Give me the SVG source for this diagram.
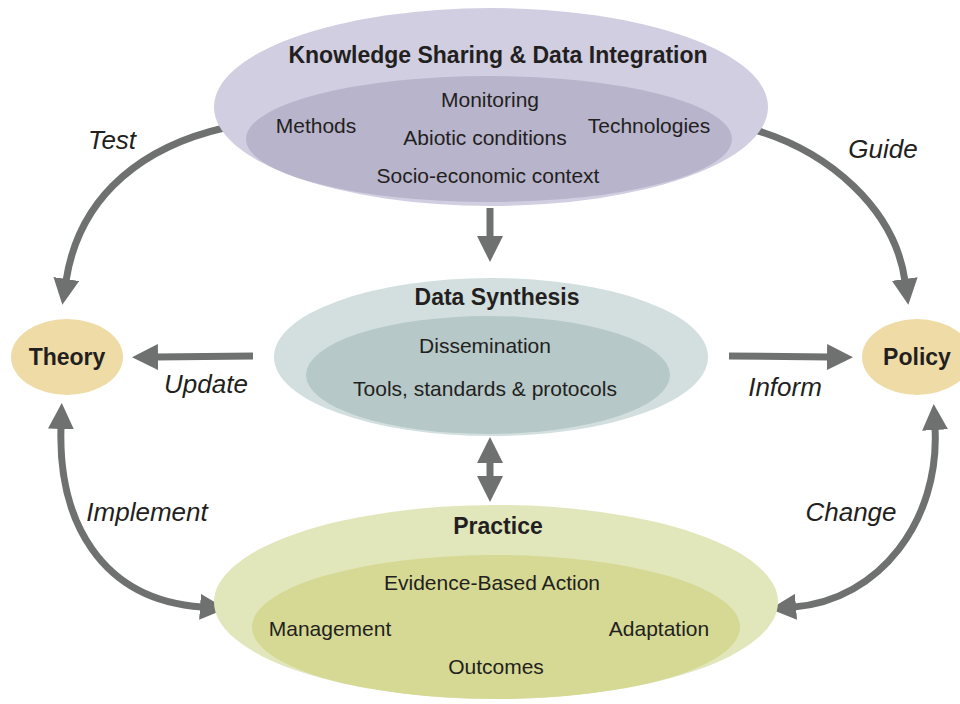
<svg xmlns="http://www.w3.org/2000/svg" width="960" height="704" viewBox="0 0 960 704">
<style>
text{font-family:"Liberation Sans",Arial,sans-serif;fill:#231f20;text-anchor:middle}
.t{font-weight:bold;font-size:23px}
.i{font-size:21px}
.lab{font-style:italic;font-size:26px}
.c{fill:none;stroke:#6f7170;stroke-width:7}
</style>
<defs>
<marker id="ah" viewBox="0 0 26 26" refX="2" refY="13" markerWidth="26" markerHeight="26" markerUnits="userSpaceOnUse" orient="auto-start-reverse">
<path d="M0,0 L26,13 L0,26 z" fill="#6f7170"/>
</marker>
</defs>
<rect width="960" height="704" fill="#ffffff"/>
<g id="connectors">
<path class="c" d="M224,128 C150,145 80,190 66,281" marker-end="url(#ah)"/>
<path class="c" d="M748,128 C830,150 895,210 905,281" marker-end="url(#ah)"/>
<path class="c" d="M253,356 L156,357" marker-end="url(#ah)"/>
<path class="c" d="M729,356 L829,357" marker-end="url(#ah)"/>
<path class="c" d="M490,208 L490,238" marker-end="url(#ah)"/>
<path class="c" d="M490,461 L490,478" marker-start="url(#ah)" marker-end="url(#ah)"/>
<path class="c" d="M61,427 C58,520 100,600 202,607" marker-start="url(#ah)" marker-end="url(#ah)"/>
<path class="c" d="M935,428 C940,520 880,600 794,607" marker-start="url(#ah)" marker-end="url(#ah)"/>
<text class="lab" x="112" y="149">Test</text>
<text class="lab" x="883" y="158">Guide</text>
<text class="lab" x="206" y="393">Update</text>
<text class="lab" x="785" y="396">Inform</text>
<text class="lab" x="147" y="521">Implement</text>
<text class="lab" x="851" y="521">Change</text>
</g>
<g id="knowledge">
<ellipse cx="491" cy="107" rx="277" ry="99" fill="#d0cee0"/>
<ellipse cx="489" cy="139" rx="243" ry="63" fill="#b8b4cc"/>
<text class="t" x="498" y="63">Knowledge Sharing &amp; Data Integration</text>
<text class="i" x="490" y="107">Monitoring</text>
<text class="i" x="316" y="133">Methods</text>
<text class="i" x="485" y="145">Abiotic conditions</text>
<text class="i" x="649" y="133">Technologies</text>
<text class="i" x="488" y="183">Socio-economic context</text>
</g>
<g id="synthesis">
<ellipse cx="491" cy="357" rx="217" ry="79" fill="#d3dfdf"/>
<ellipse cx="488" cy="375" rx="182" ry="59" fill="#b6c8c8"/>
<text class="t" x="497" y="305">Data Synthesis</text>
<text class="i" x="485" y="353">Dissemination</text>
<text class="i" x="485" y="396">Tools, standards &amp; protocols</text>
</g>
<g id="practice">
<ellipse cx="496" cy="602" rx="282" ry="97" fill="#e2e6bb"/>
<ellipse cx="496" cy="627" rx="244" ry="72" fill="#d5d993"/>
<text class="t" x="498" y="534">Practice</text>
<text class="i" x="492" y="590">Evidence-Based Action</text>
<text class="i" x="330" y="636">Management</text>
<text class="i" x="659" y="636">Adaptation</text>
<text class="i" x="496" y="674">Outcomes</text>
</g>
<g id="theory">
<ellipse cx="67" cy="357" rx="56" ry="38" fill="#efdba6"/>
<text class="t" x="67" y="365">Theory</text>
</g>
<g id="policy">
<ellipse cx="917" cy="357" rx="55" ry="38" fill="#efdba6"/>
<text class="t" x="917" y="365">Policy</text>
</g>
</svg>
